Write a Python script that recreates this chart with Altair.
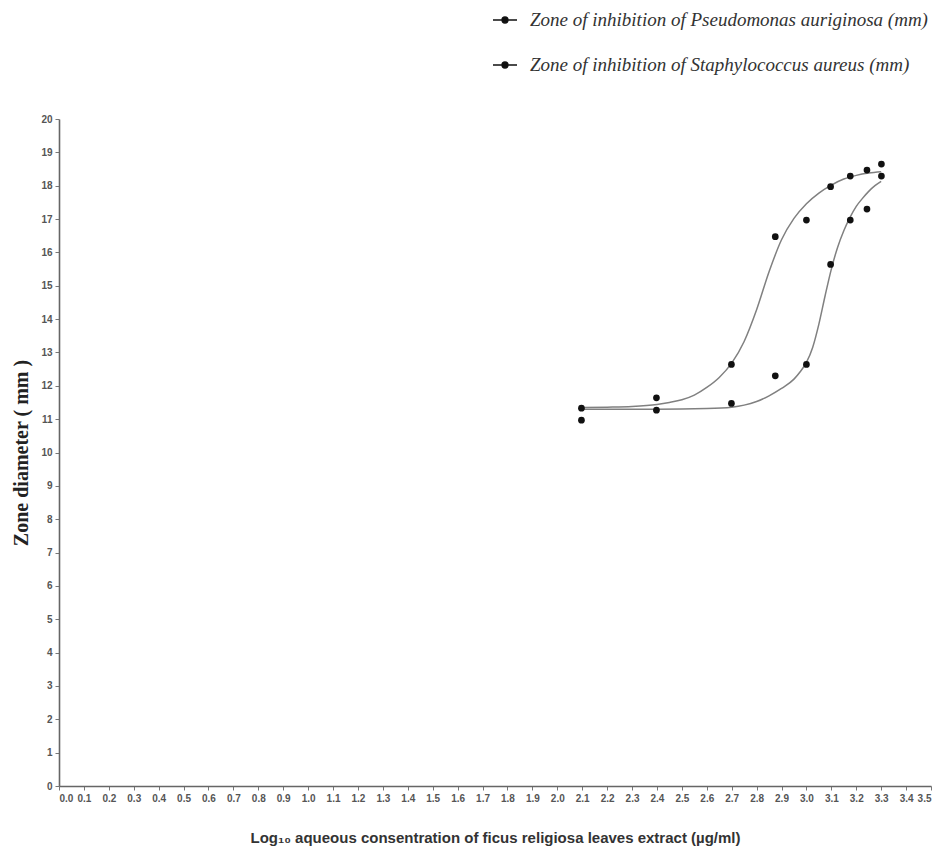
import altair as alt
import pandas as pd

# ---- data ----
series_names = [
    "Zone of inhibition of Pseudomonas auriginosa (mm)",
    "Zone of inhibition of Staphylococcus aureus (mm)",
]
log_conc = [2.097, 2.398, 2.699, 2.875, 3.0, 3.097, 3.176, 3.243, 3.301]
pseudomonas = [11.33, 11.64, 12.64, 16.47, 16.97, 17.97, 18.29, 18.47, 18.65]
staphylococcus = [10.97, 11.27, 11.47, 12.30, 12.64, 15.64, 16.97, 17.30, 18.29]

# fitted curves
pseudo_fit_x = [2.095, 2.2, 2.3, 2.4, 2.45, 2.5, 2.55, 2.6, 2.65, 2.7, 2.75, 2.8, 2.85, 2.9,
                2.95, 3.0, 3.05, 3.1, 3.15, 3.2, 3.25, 3.3]
pseudo_fit_y = [11.35, 11.36, 11.38, 11.44, 11.5, 11.58, 11.72, 11.95, 12.25, 12.68, 13.33, 14.28,
                15.42, 16.38, 17.02, 17.46, 17.78, 18.02, 18.2, 18.31, 18.38, 18.42]
staph_fit_x = [2.095, 2.4, 2.6, 2.7, 2.75, 2.8, 2.85, 2.9, 2.95, 2.975, 3.0, 3.025, 3.05, 3.075,
               3.1, 3.125, 3.15, 3.175, 3.2, 3.225, 3.25, 3.275, 3.3]
staph_fit_y = [11.3, 11.3, 11.32, 11.36, 11.42, 11.53, 11.7, 11.92, 12.2, 12.42, 12.7, 13.15, 13.85,
               14.7, 15.5, 16.15, 16.65, 17.05, 17.38, 17.62, 17.83, 18.0, 18.13]

x_ticks = [round(i * 0.1, 1) for i in range(36)]
y_ticks = list(range(21))

pts = pd.DataFrame({
    "x": log_conc + log_conc,
    "y": pseudomonas + staphylococcus,
    "series": [series_names[0]] * len(log_conc) + [series_names[1]] * len(log_conc),
})
fit = pd.DataFrame({
    "x": pseudo_fit_x + staph_fit_x,
    "y": pseudo_fit_y + staph_fit_y,
    "series": [series_names[0]] * len(pseudo_fit_x) + [series_names[1]] * len(staph_fit_x),
})

xscale = alt.Scale(domain=[0, 3.5], nice=False, zero=False)
yscale = alt.Scale(domain=[0, 20], nice=False)

xaxis = alt.Axis(
    values=x_ticks, format=".1f", labelOverlap=False, grid=False, tickCount=36,
    title="Log₁₀ aqueous consentration of ficus religiosa leaves extract (µg/ml)",
    titleFont="Liberation Sans", titleFontSize=15, titleFontWeight="bold", titleColor="#333",
    titlePadding=27,
    labelFont="Liberation Sans", labelFontSize=10, labelFontWeight="bold", labelColor="#555",
    labelPadding=3, tickSize=4, tickColor="#777", domainColor="#666", domainWidth=1.6,
)
yaxis = alt.Axis(
    values=y_ticks, format="d", grid=False, labelOverlap=False, tickCount=21,
    title="Zone diameter ( mm )",
    titleFont="Liberation Serif", titleFontSize=20, titleFontWeight="bold", titleColor="#222",
    titlePadding=9,
    labelFont="Liberation Sans", labelFontSize=10, labelFontWeight="bold", labelColor="#555",
    labelPadding=3, tickSize=4, tickColor="#777", domainColor="#666", domainWidth=1.6,
)

legend_symbol = "M-1,0L1,0M-0.25,0a0.25,0.25 0 1,0 0.5,0a0.25,0.25 0 1,0 -0.5,0Z"

lines = alt.Chart(fit).mark_line(interpolate="monotone", color="#808080", strokeWidth=1.5).encode(
    x=alt.X("x:Q", scale=xscale, axis=xaxis),
    y=alt.Y("y:Q", scale=yscale, axis=yaxis),
    detail="series:N",
)

points = alt.Chart(pts).mark_point(filled=True, shape="circle", size=45, opacity=1).encode(
    x=alt.X("x:Q", scale=xscale, axis=xaxis),
    y=alt.Y("y:Q", scale=yscale, axis=yaxis),
    color=alt.Color(
        "series:N",
        scale=alt.Scale(domain=series_names, range=["#111", "#111"]),
        legend=alt.Legend(
            title=None, orient="none", legendX=433, legendY=-112,
            symbolType=legend_symbol, symbolSize=576,
            symbolStrokeColor="#111", symbolStrokeWidth=1.3, symbolFillColor="#111",
            labelFont="Liberation Serif", labelFontStyle="italic", labelFontSize=19,
            labelColor="#333", labelLimit=700, labelOffset=12, rowPadding=22,
        ),
    ),
)

chart = (lines + points).properties(
    width=872, height=667,
    autosize=alt.AutoSizeParams(type="none"),
    padding={"left": 51, "top": 111, "right": 6, "bottom": 70},
).configure_view(stroke=None)

chart.save("out.html", embed_options={"renderer": "svg", "actions": False})
